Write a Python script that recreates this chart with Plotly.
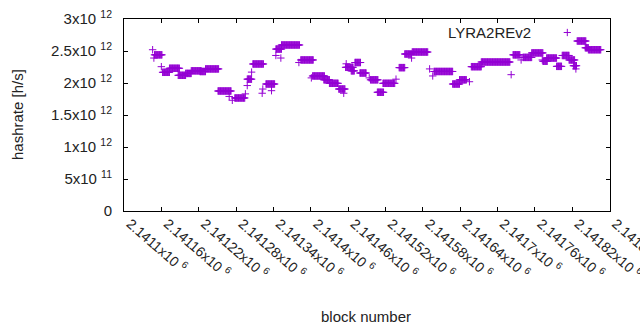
import plotly.graph_objects as go

# ---- data (runs of constant hashrate over block ranges) ----
run_start = [2141146, 2141148, 2141149, 2141160, 2141162, 2141173, 2141187, 2141199, 2141208, 2141222,
             2141231, 2141251, 2141269, 2141274, 2141278, 2141295, 2141298, 2141298, 2141305, 2141307,
             2141322, 2141323, 2141328, 2141337, 2141344, 2141344, 2141352, 2141353, 2141381, 2141384,
             2141401, 2141403, 2141421, 2141430, 2141445, 2141453, 2141457, 2141456, 2141465, 2141471,
             2141479, 2141494, 2141496, 2141507, 2141516, 2141537, 2141542, 2141551, 2141562, 2141563,
             2141591, 2141596, 2141598, 2141628, 2141639, 2141655, 2141658, 2141674, 2141722, 2141725,
             2141738, 2141741, 2141755, 2141772, 2141773, 2141779, 2141795, 2141804, 2141815, 2141822,
             2141826, 2141828, 2141841, 2141846]
run_end = [2141146, 2141148, 2141161, 2141160, 2141173, 2141189, 2141199, 2141208, 2141224, 2141231,
           2141252, 2141272, 2141269, 2141274, 2141294, 2141295, 2141298, 2141305, 2141305, 2141324,
           2141322, 2141323, 2141342, 2141337, 2141344, 2141353, 2141352, 2141382, 2141381, 2141404,
           2141401, 2141422, 2141430, 2141444, 2141455, 2141453, 2141457, 2141468, 2141470, 2141480,
           2141489, 2141494, 2141508, 2141517, 2141535, 2141537, 2141551, 2141562, 2141562, 2141588,
           2141591, 2141596, 2141628, 2141639, 2141650, 2141655, 2141674, 2141720, 2141722, 2141736,
           2141738, 2141755, 2141773, 2141772, 2141780, 2141795, 2141803, 2141815, 2141824, 2141827,
           2141826, 2141842, 2141846, 2141866]
run_hashrate = [2.52e12, 2.39e12, 2.44e12, 2.255e12, 2.167e12, 2.23e12, 2.12e12, 2.15e12, 2.19e12, 2.18e12,
                2.22e12, 1.875e12, 1.79e12, 1.73e12, 1.766e12, 1.83e12, 1.96e12, 2.06e12, 2.17e12, 2.297e12,
                1.84e12, 1.906e12, 1.984e12, 1.88e12, 2.43e12, 2.53e12, 2.39e12, 2.594e12, 2.32e12, 2.36e12,
                2.08e12, 2.11e12, 2.05e12, 1.995e12, 1.906e12, 1.84e12, 2.30e12, 2.245e12, 2.19e12, 2.32e12,
                2.156e12, 2.08e12, 2.05e12, 1.855e12, 1.995e12, 2.06e12, 2.24e12, 2.453e12, 2.39e12, 2.484e12,
                2.22e12, 2.11e12, 2.18e12, 1.984e12, 2.05e12, 2.02e12, 2.255e12, 2.328e12, 2.13e12, 2.44e12,
                2.36e12, 2.40e12, 2.47e12, 2.36e12, 2.34e12, 2.39e12, 2.26e12, 2.43e12, 2.36e12, 2.27e12,
                2.22e12, 2.656e12, 2.55e12, 2.52e12]

x_tick_vals = [2141100, 2141160, 2141220, 2141280, 2141340, 2141400, 2141460,
               2141520, 2141580, 2141640, 2141700, 2141760, 2141820, 2141880]
x_tick_mant = ["2.1411", "2.14116", "2.14122", "2.14128", "2.14134", "2.1414", "2.14146",
               "2.14152", "2.14158", "2.14164", "2.1417", "2.14176", "2.14182", "2.14188"]
y_tick_vals = [0, 5e11, 1e12, 1.5e12, 2e12, 2.5e12, 3e12]
y_tick_text = ["0", "5x10\u00a0<sup>11</sup>", "1x10\u00a0<sup>12</sup>", "1.5x10\u00a0<sup>12</sup>",
               "2x10\u00a0<sup>12</sup>", "2.5x10\u00a0<sup>12</sup>", "3x10\u00a0<sup>12</sup>"]
series_name = "LYRA2REv2"

# expand runs into one point per block
blocks, rates = [], []
for a, b, v in zip(run_start, run_end, run_hashrate):
    for blk in range(a, b + 1):
        blocks.append(blk)
        rates.append(v)

COLOR = "#9400D3"
FONT = "Liberation Sans, Arial, sans-serif"
X_RANGE = [2141100, 2141880]

# layout geometry (pixels)
W, H = 640, 330
ML, MR, MT, MB = 124, 20, 19, 119
AREA_W = W - ML - MR              # 496
PLOT_W = 485.5                    # width of the framed plot
LABEL_NUDGE = 6                   # px: rotated labels start at their tick like gnuplot
d_main = [0, PLOT_W / AREA_W]
d_lab = [LABEL_NUDGE / AREA_W, (PLOT_W + LABEL_NUDGE) / AREA_W]

def px_to_paper_x(px):
    return (px - ML) / AREA_W

fig = go.Figure()
# empty helper trace so the label axis is drawn (added first so it sits underneath)
fig.add_trace(go.Scatter(x=[None], y=[None], xaxis="x2", yaxis="y", mode="markers",
                         showlegend=False, hoverinfo="skip"))
fig.add_trace(go.Scatter(
    x=blocks, y=rates, mode="markers", name=series_name, showlegend=False,
    marker=dict(symbol="cross-thin", size=5.3, color=COLOR, line=dict(color=COLOR, width=1)),
))

axis_common = dict(showline=True, linecolor="black", linewidth=1, mirror="ticks",
                   ticks="inside", ticklen=4, tickcolor="black", showgrid=False, zeroline=False,
                   automargin=False, ticklabeloverflow="allow",
                   tickfont=dict(family=FONT, size=15, color="#222"))

fig.update_layout(
    xaxis=dict(range=X_RANGE, domain=d_main, tickvals=x_tick_vals, showticklabels=False, **axis_common),
    xaxis2=dict(range=X_RANGE, domain=d_lab, side="bottom",
                anchor="y", tickvals=x_tick_vals, autorange=False,
                ticktext=[m + "x10\u00a0<sup>6</sup>" for m in x_tick_mant],
                tickangle=41, ticks="", showline=False, showgrid=False, zeroline=False,
                automargin=False, ticklabeloverflow="allow", ticklabelstandoff=1,
                tickfont=dict(family=FONT, size=14, color="#222")),
    yaxis=dict(range=[0, 3e12], tickvals=y_tick_vals, ticktext=y_tick_text, anchor="x",
               ticklabelstandoff=8, **axis_common),
)

# legend (gnuplot style: text then sample)
lx, ly = px_to_paper_x(567.3), 0.9297
hx = 3.6 / AREA_W
fig.add_annotation(x=px_to_paper_x(533), y=ly, xref="paper", yref="paper", text=series_name, showarrow=False,
                   xanchor="right", yanchor="middle", font=dict(family=FONT, size=15, color="#222"))
fig.add_shape(type="line", xref="paper", yref="paper", x0=lx - hx, x1=lx + hx, y0=ly, y1=ly,
              line=dict(color=COLOR, width=1))
fig.add_shape(type="line", xref="paper", yref="paper", x0=lx, x1=lx, y0=ly - 0.019, y1=ly + 0.019,
              line=dict(color=COLOR, width=1))

# axis titles
fig.add_annotation(x=px_to_paper_x(17), y=0.5, xref="paper", yref="paper", text="hashrate [h/s]",
                   showarrow=False, textangle=-90, xanchor="center", yanchor="middle",
                   font=dict(family=FONT, size=15, color="#222"))
fig.add_annotation(x=px_to_paper_x(365.5), y=-0.55, xref="paper", yref="paper", text="block number",
                   showarrow=False, xanchor="center", yanchor="middle",
                   font=dict(family=FONT, size=15, color="#222"))

fig.update_layout(width=W, height=H, autosize=False,
                  margin=dict(l=ML, r=MR, t=MT, b=MB, pad=0),
                  paper_bgcolor="white", plot_bgcolor="rgba(0,0,0,0)", showlegend=False)

fig.write_html("out.html", config={"displayModeBar": False},
               post_script="document.body.style.margin='0';")
